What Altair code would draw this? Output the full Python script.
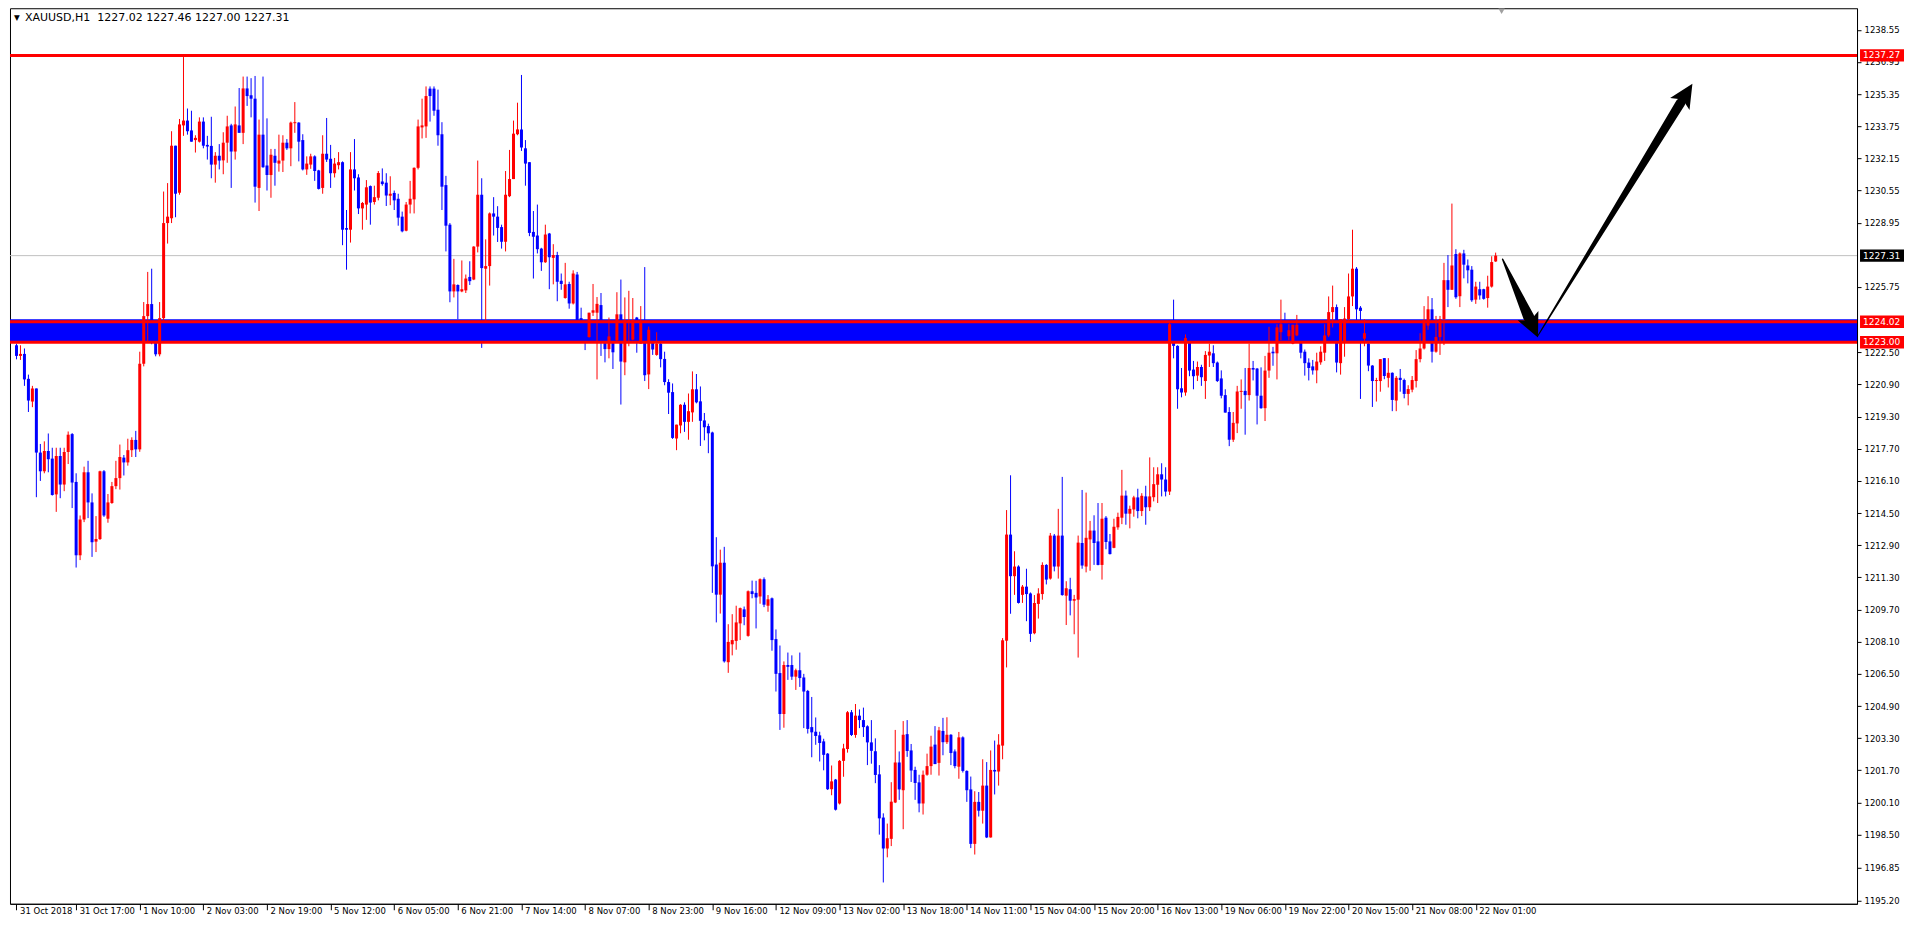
import altair as alt
import pandas as pd

# ---------------- data (XAUUSD H1) ----------------
OPEN = [
1222.85, 1222.32, 1222.42, 1221.18, 1220.05, 1220.70, 1217.51, 1216.58, 1217.59, 1217.21,
1215.43, 1217.34, 1215.92, 1217.54, 1218.43, 1216.05, 1212.40, 1214.18, 1216.53, 1215.03,
1213.08, 1213.21, 1216.58, 1214.22, 1215.00, 1215.84, 1216.24, 1217.26, 1217.02, 1217.63,
1218.14, 1217.67, 1221.93, 1224.30, 1224.90, 1223.20, 1222.40, 1224.20, 1228.93, 1229.17,
1232.78, 1230.44, 1233.79, 1234.03, 1233.54, 1233.06, 1232.98, 1233.98, 1232.82, 1232.77,
1231.84, 1232.28, 1232.05, 1232.93, 1233.79, 1232.49, 1233.79, 1233.42, 1235.63, 1235.29,
1235.12, 1230.68, 1233.33, 1231.79, 1231.32, 1232.28, 1231.89, 1232.04, 1232.93, 1232.65,
1233.90, 1233.93, 1233.06, 1231.60, 1231.84, 1232.25, 1231.55, 1230.68, 1232.38, 1232.13,
1231.41, 1231.81, 1231.96, 1228.68, 1228.60, 1231.60, 1231.20, 1229.66, 1229.85, 1230.77,
1229.98, 1230.19, 1231.00, 1230.94, 1230.29, 1230.43, 1230.14, 1229.25, 1228.55, 1229.85,
1230.11, 1231.68, 1233.69, 1233.74, 1235.62, 1235.62, 1234.57, 1233.35, 1230.82, 1228.85,
1225.53, 1225.85, 1225.53, 1225.58, 1226.25, 1226.12, 1227.76, 1230.34, 1226.66, 1226.79,
1229.41, 1229.25, 1228.73, 1228.00, 1230.27, 1231.12, 1233.35, 1233.59, 1232.65, 1231.96,
1228.49, 1228.31, 1227.66, 1226.98, 1228.41, 1227.20, 1227.34, 1226.06, 1225.20, 1225.90,
1224.93, 1226.37, 1224.20, 1223.30, 1223.26, 1224.47, 1224.47, 1224.85, 1223.90, 1222.66,
1223.29, 1223.10, 1224.39, 1222.00, 1224.04, 1223.13, 1224.23, 1222.93, 1223.67, 1221.40,
1223.10, 1222.37, 1222.93, 1222.17, 1221.02, 1220.52, 1218.21, 1218.86, 1219.89, 1219.04,
1219.51, 1220.66, 1220.06, 1219.11, 1218.83, 1218.51, 1211.94, 1210.44, 1212.03, 1207.08,
1207.97, 1208.14, 1209.01, 1209.71, 1208.39, 1210.61, 1210.53, 1210.35, 1211.21, 1209.89,
1210.26, 1208.23, 1206.54, 1204.50, 1206.94, 1206.94, 1206.36, 1206.68, 1206.32, 1205.65,
1203.85, 1203.62, 1203.44, 1203.14, 1202.53, 1200.76, 1201.24, 1200.05, 1202.17, 1202.76,
1204.59, 1203.46, 1204.42, 1204.20, 1203.89, 1203.09, 1202.65, 1201.50, 1199.35, 1197.81,
1198.29, 1200.10, 1202.09, 1200.71, 1203.50, 1202.69, 1201.72, 1201.10, 1200.05, 1201.48,
1201.91, 1202.98, 1202.07, 1203.66, 1203.10, 1203.47, 1202.64, 1201.88, 1203.34, 1201.67,
1200.75, 1198.04, 1200.13, 1199.69, 1200.94, 1198.36, 1201.72, 1201.64, 1202.93, 1208.15,
1213.43, 1211.36, 1211.84, 1210.43, 1210.84, 1210.50, 1208.52, 1209.98, 1210.47, 1211.92,
1211.24, 1213.38, 1211.84, 1213.38, 1210.39, 1210.71, 1210.14, 1210.19, 1213.01, 1211.84,
1213.19, 1213.63, 1213.09, 1211.92, 1214.27, 1213.09, 1212.77, 1213.79, 1214.27, 1215.37,
1214.47, 1214.68, 1215.28, 1214.60, 1215.33, 1214.79, 1215.29, 1215.91, 1216.43, 1216.17,
1215.57, 1223.90, 1222.82, 1220.71, 1220.50, 1223.21, 1221.64, 1221.34, 1221.77, 1221.07,
1222.34, 1222.45, 1221.99, 1221.20, 1220.37, 1219.53, 1218.15, 1218.96, 1220.53, 1220.58,
1220.37, 1221.72, 1221.69, 1220.34, 1219.72, 1221.59, 1222.53, 1222.45, 1223.50, 1223.90,
1223.30, 1222.93, 1223.34, 1223.10, 1222.53, 1221.99, 1221.80, 1221.60, 1222.00, 1222.48,
1223.34, 1224.50, 1224.75, 1221.96, 1222.98, 1224.15, 1225.28, 1226.66, 1224.72, 1223.18,
1222.94, 1221.84, 1221.07, 1221.07, 1222.21, 1221.23, 1221.48, 1220.10, 1221.23, 1221.12,
1220.43, 1220.64, 1221.07, 1222.16, 1222.69, 1223.83, 1224.64, 1222.53, 1223.26, 1224.15,
1226.09, 1225.61, 1227.39, 1225.29, 1227.42, 1226.82, 1226.61, 1225.12, 1225.64, 1225.64,
1225.20, 1225.77, 1227.02]

HIGH = [
1222.93, 1222.85, 1222.69, 1221.39, 1220.83, 1220.70, 1217.94, 1218.07, 1218.46, 1217.75,
1217.75, 1217.75, 1217.75, 1218.56, 1218.48, 1216.48, 1214.38, 1216.81, 1217.10, 1215.48,
1214.35, 1216.61, 1216.64, 1215.45, 1216.05, 1217.10, 1217.91, 1217.39, 1218.20, 1218.27,
1218.59, 1222.53, 1225.00, 1226.50, 1226.66, 1223.40, 1225.00, 1230.50, 1230.92, 1233.50,
1232.78, 1234.11, 1237.19, 1234.63, 1234.52, 1233.30, 1234.19, 1234.19, 1233.27, 1234.22,
1232.46, 1232.86, 1233.45, 1234.27, 1233.87, 1234.73, 1235.65, 1236.22, 1236.22, 1236.14,
1236.25, 1234.08, 1236.22, 1234.14, 1232.62, 1232.62, 1233.33, 1233.30, 1233.11, 1233.98,
1234.95, 1233.95, 1233.35, 1232.25, 1232.38, 1232.30, 1231.58, 1233.30, 1234.16, 1232.82,
1232.17, 1232.46, 1232.00, 1229.58, 1232.46, 1233.11, 1231.36, 1229.98, 1231.07, 1230.80,
1230.79, 1231.52, 1231.65, 1231.41, 1231.26, 1230.55, 1230.39, 1229.50, 1229.98, 1231.03,
1231.70, 1234.08, 1235.12, 1235.73, 1235.73, 1235.73, 1235.57, 1233.95, 1231.28, 1228.93,
1227.15, 1225.88, 1227.07, 1226.37, 1227.03, 1227.78, 1232.04, 1231.16, 1228.12, 1229.46,
1230.22, 1229.77, 1228.85, 1231.52, 1232.57, 1234.03, 1234.92, 1236.30, 1233.06, 1231.96,
1229.53, 1229.85, 1227.70, 1228.85, 1228.44, 1227.88, 1227.50, 1226.42, 1226.95, 1226.01,
1226.58, 1226.50, 1224.72, 1223.80, 1224.47, 1225.90, 1225.25, 1225.45, 1224.00, 1224.23,
1223.70, 1225.49, 1226.12, 1225.23, 1225.56, 1225.20, 1224.26, 1224.80, 1226.74, 1223.78,
1223.26, 1223.50, 1223.00, 1222.53, 1221.16, 1220.95, 1218.90, 1219.92, 1220.01, 1220.45,
1221.55, 1221.42, 1220.80, 1219.48, 1218.95, 1218.55, 1213.30, 1212.68, 1212.82, 1208.97,
1209.47, 1209.89, 1209.80, 1209.85, 1210.65, 1211.14, 1211.13, 1211.25, 1211.30, 1210.42,
1210.30, 1208.71, 1207.91, 1207.12, 1207.56, 1207.42, 1206.76, 1207.56, 1206.50, 1205.70,
1205.35, 1204.33, 1203.62, 1203.27, 1202.56, 1201.94, 1201.27, 1202.21, 1203.02, 1204.65,
1204.70, 1205.00, 1204.73, 1204.82, 1203.94, 1204.20, 1203.29, 1201.96, 1199.56, 1199.05,
1201.11, 1203.71, 1202.64, 1204.15, 1204.20, 1203.01, 1201.88, 1201.48, 1201.69, 1202.53,
1203.42, 1203.90, 1203.86, 1204.31, 1204.34, 1203.50, 1202.74, 1203.61, 1203.39, 1201.70,
1201.39, 1200.66, 1200.62, 1202.25, 1202.11, 1202.69, 1203.18, 1203.50, 1208.28, 1214.65,
1216.38, 1212.60, 1211.90, 1210.92, 1211.73, 1210.55, 1210.42, 1210.76, 1212.05, 1211.96,
1213.51, 1213.46, 1214.71, 1216.30, 1211.11, 1211.28, 1210.43, 1213.38, 1215.65, 1215.52,
1214.11, 1214.39, 1215.00, 1215.00, 1214.35, 1213.46, 1214.22, 1214.52, 1216.65, 1215.62,
1214.87, 1215.36, 1215.71, 1215.49, 1215.86, 1217.27, 1216.78, 1216.78, 1216.98, 1216.78,
1224.05, 1225.12, 1222.85, 1221.72, 1223.39, 1223.25, 1222.07, 1222.04, 1221.88, 1222.56,
1222.93, 1222.85, 1222.04, 1221.60, 1220.66, 1219.77, 1219.53, 1220.83, 1221.15, 1221.72,
1222.93, 1222.07, 1221.72, 1221.75, 1222.32, 1223.77, 1222.77, 1223.90, 1225.12, 1224.47,
1223.90, 1223.87, 1224.36, 1223.15, 1222.64, 1222.20, 1222.12, 1222.48, 1222.80, 1223.90,
1225.28, 1225.82, 1224.88, 1224.15, 1224.75, 1226.42, 1228.60, 1226.74, 1224.80, 1224.15,
1223.26, 1221.86, 1221.23, 1222.16, 1222.21, 1222.21, 1221.50, 1221.32, 1221.67, 1221.19,
1220.86, 1221.32, 1222.61, 1223.45, 1224.80, 1225.29, 1225.20, 1224.31, 1224.31, 1226.95,
1227.34, 1229.90, 1227.63, 1227.47, 1227.60, 1227.12, 1226.79, 1226.01, 1226.01, 1225.66,
1226.31, 1227.28, 1227.46]

LOW = [
1222.15, 1222.12, 1220.83, 1219.53, 1219.77, 1215.29, 1216.10, 1216.48, 1216.53, 1215.37,
1214.56, 1215.24, 1215.59, 1216.94, 1214.75, 1211.79, 1212.16, 1214.05, 1214.25, 1212.32,
1212.56, 1213.16, 1214.31, 1214.02, 1214.96, 1215.69, 1215.67, 1216.37, 1216.86, 1217.29,
1217.29, 1217.55, 1221.80, 1223.00, 1222.90, 1222.30, 1222.30, 1224.00, 1227.91, 1228.93,
1229.22, 1230.34, 1233.27, 1233.33, 1232.98, 1232.44, 1232.94, 1232.65, 1232.09, 1231.16,
1230.94, 1231.60, 1231.36, 1231.93, 1230.68, 1232.09, 1233.42, 1232.86, 1234.76, 1234.19,
1229.95, 1229.53, 1231.68, 1230.55, 1230.19, 1230.79, 1231.49, 1231.47, 1232.57, 1231.76,
1233.42, 1232.00, 1231.55, 1231.33, 1231.63, 1231.03, 1230.60, 1230.39, 1231.97, 1230.68,
1231.20, 1231.60, 1227.83, 1226.61, 1227.96, 1230.55, 1229.38, 1228.60, 1229.09, 1228.85,
1229.85, 1230.06, 1230.79, 1229.78, 1229.82, 1229.58, 1228.80, 1228.47, 1228.52, 1229.41,
1229.41, 1231.60, 1233.14, 1233.17, 1233.98, 1234.27, 1232.78, 1229.58, 1227.52, 1224.99,
1225.23, 1224.15, 1225.49, 1225.45, 1225.85, 1226.09, 1227.47, 1222.72, 1223.99, 1225.82,
1228.31, 1227.99, 1227.66, 1227.52, 1230.22, 1231.12, 1233.30, 1232.52, 1230.79, 1228.28,
1226.17, 1227.42, 1226.55, 1226.95, 1225.64, 1225.88, 1225.04, 1225.61, 1225.17, 1224.67,
1224.88, 1224.07, 1223.00, 1222.61, 1223.23, 1224.31, 1221.15, 1222.32, 1222.00, 1222.20,
1221.67, 1222.97, 1219.90, 1221.36, 1222.80, 1223.10, 1222.48, 1222.93, 1221.07, 1220.67,
1222.37, 1222.33, 1221.75, 1220.86, 1219.43, 1218.19, 1217.63, 1218.47, 1218.54, 1218.15,
1219.04, 1219.96, 1217.84, 1218.12, 1217.48, 1210.53, 1209.06, 1209.50, 1207.06, 1206.55,
1207.42, 1207.70, 1208.18, 1208.92, 1208.35, 1210.26, 1208.76, 1209.99, 1209.82, 1209.59,
1207.65, 1205.62, 1203.71, 1203.82, 1206.20, 1206.20, 1205.70, 1205.85, 1203.80, 1203.53,
1202.35, 1202.97, 1202.14, 1201.70, 1200.72, 1200.46, 1199.70, 1200.00, 1201.38, 1202.58,
1203.41, 1203.32, 1203.80, 1203.36, 1201.96, 1202.03, 1201.06, 1198.50, 1196.12, 1197.37,
1197.93, 1200.07, 1200.23, 1198.77, 1202.37, 1201.12, 1200.23, 1199.61, 1199.50, 1201.43,
1201.48, 1202.01, 1201.44, 1202.45, 1203.01, 1201.96, 1201.80, 1201.28, 1201.59, 1200.13,
1197.83, 1197.51, 1199.40, 1199.05, 1198.33, 1198.35, 1200.50, 1200.94, 1202.25, 1206.82,
1209.49, 1210.43, 1210.00, 1210.03, 1209.12, 1208.09, 1208.47, 1209.25, 1210.19, 1210.95,
1211.19, 1211.60, 1211.24, 1210.39, 1208.93, 1209.41, 1208.47, 1207.31, 1211.73, 1211.55,
1211.63, 1211.92, 1211.90, 1211.19, 1212.70, 1212.44, 1212.75, 1213.67, 1213.95, 1213.92,
1213.74, 1214.32, 1214.24, 1214.35, 1213.92, 1214.60, 1215.08, 1215.00, 1215.33, 1215.33,
1215.40, 1222.20, 1219.69, 1220.26, 1220.34, 1221.31, 1220.66, 1221.07, 1220.83, 1220.18,
1221.77, 1221.77, 1221.02, 1220.21, 1219.50, 1217.83, 1218.04, 1218.48, 1219.69, 1218.40,
1220.10, 1221.10, 1218.91, 1219.69, 1219.08, 1221.23, 1221.83, 1221.15, 1223.10, 1223.00,
1223.10, 1222.90, 1223.30, 1222.20, 1221.34, 1221.10, 1221.39, 1220.96, 1221.88, 1222.07,
1223.26, 1223.74, 1221.50, 1221.39, 1222.28, 1224.07, 1224.80, 1224.07, 1220.18, 1222.80,
1221.56, 1219.78, 1220.05, 1220.54, 1221.16, 1220.75, 1219.57, 1219.57, 1220.54, 1220.21,
1219.86, 1220.51, 1220.75, 1222.00, 1222.64, 1223.62, 1221.99, 1222.48, 1222.37, 1222.86,
1224.75, 1225.61, 1225.16, 1224.75, 1226.18, 1225.93, 1225.01, 1224.91, 1225.12, 1225.12,
1224.72, 1225.72, 1227.00]

CLOSE = [
1222.32, 1222.42, 1221.15, 1220.10, 1220.70, 1217.51, 1216.58, 1217.59, 1217.18, 1215.40,
1217.34, 1215.92, 1217.54, 1218.40, 1216.02, 1212.40, 1214.18, 1216.53, 1215.03, 1213.05,
1213.21, 1216.58, 1214.38, 1215.03, 1215.84, 1216.24, 1217.29, 1217.02, 1217.63, 1218.14,
1217.67, 1221.93, 1224.30, 1224.90, 1223.20, 1222.40, 1224.20, 1228.93, 1229.25, 1232.78,
1230.39, 1233.84, 1234.03, 1233.50, 1232.98, 1233.17, 1233.98, 1232.78, 1232.74, 1231.84,
1232.28, 1232.04, 1232.93, 1233.74, 1232.49, 1233.84, 1233.42, 1235.63, 1235.25, 1235.12,
1230.74, 1233.33, 1231.71, 1231.32, 1232.33, 1231.93, 1232.04, 1232.93, 1232.65, 1233.93,
1233.95, 1232.98, 1231.60, 1231.89, 1232.25, 1231.52, 1230.63, 1232.38, 1232.09, 1231.41,
1231.89, 1231.96, 1228.60, 1228.60, 1231.60, 1231.16, 1229.66, 1229.93, 1230.71, 1229.95,
1230.22, 1231.42, 1230.87, 1230.30, 1230.39, 1230.06, 1229.20, 1228.52, 1229.85, 1230.14,
1231.68, 1233.74, 1233.79, 1235.25, 1235.25, 1234.52, 1233.30, 1230.74, 1228.80, 1225.53,
1225.88, 1225.53, 1225.64, 1226.17, 1226.04, 1227.76, 1230.34, 1226.69, 1226.79, 1229.41,
1229.25, 1228.69, 1228.00, 1230.34, 1231.12, 1233.38, 1233.59, 1232.69, 1231.89, 1228.44,
1228.25, 1227.63, 1226.98, 1228.36, 1227.23, 1227.34, 1226.01, 1225.90, 1225.88, 1224.93,
1226.42, 1224.07, 1223.30, 1223.10, 1224.47, 1224.59, 1224.91, 1224.10, 1222.66, 1223.29,
1222.50, 1224.39, 1222.04, 1224.10, 1224.10, 1224.10, 1223.30, 1224.04, 1221.36, 1223.62,
1222.64, 1222.93, 1222.16, 1221.02, 1220.49, 1218.24, 1218.90, 1219.89, 1219.04, 1219.57,
1220.66, 1220.01, 1219.09, 1218.77, 1218.47, 1211.85, 1210.44, 1212.03, 1207.12, 1208.09,
1208.18, 1209.06, 1209.77, 1209.33, 1210.61, 1210.47, 1210.30, 1211.21, 1209.94, 1210.21,
1208.18, 1206.50, 1204.50, 1206.94, 1206.85, 1206.36, 1206.68, 1206.29, 1205.62, 1203.76,
1203.59, 1203.41, 1203.06, 1202.47, 1200.76, 1201.15, 1199.74, 1202.17, 1202.79, 1204.59,
1203.46, 1204.42, 1204.20, 1203.85, 1203.09, 1202.67, 1201.47, 1199.31, 1197.81, 1198.32,
1200.14, 1202.09, 1200.75, 1203.47, 1202.66, 1201.69, 1201.07, 1200.05, 1201.48, 1201.91,
1202.88, 1202.01, 1203.69, 1203.10, 1203.47, 1202.56, 1201.91, 1203.34, 1201.67, 1200.71,
1198.04, 1200.13, 1199.69, 1200.94, 1198.36, 1201.72, 1201.64, 1202.98, 1208.17, 1213.43,
1211.36, 1211.84, 1210.03, 1210.84, 1210.47, 1208.49, 1210.03, 1210.50, 1211.92, 1211.19,
1213.38, 1211.84, 1213.38, 1210.42, 1210.76, 1210.14, 1210.22, 1213.03, 1211.89, 1213.27,
1213.63, 1213.01, 1211.92, 1214.22, 1213.06, 1212.46, 1213.82, 1214.31, 1215.37, 1214.47,
1214.71, 1215.28, 1214.60, 1215.36, 1214.79, 1215.33, 1215.94, 1216.43, 1216.17, 1215.57,
1223.90, 1222.82, 1220.66, 1220.50, 1223.21, 1221.59, 1221.31, 1221.77, 1221.26, 1222.37,
1222.53, 1221.96, 1221.07, 1220.34, 1219.50, 1218.15, 1218.99, 1220.55, 1220.58, 1220.37,
1221.72, 1221.64, 1220.34, 1219.72, 1221.59, 1222.48, 1222.45, 1223.74, 1223.90, 1223.30,
1223.60, 1223.87, 1223.87, 1222.48, 1221.96, 1221.72, 1221.60, 1222.04, 1222.53, 1223.34,
1224.50, 1224.75, 1221.99, 1224.15, 1224.18, 1225.28, 1226.66, 1224.64, 1224.56, 1223.45,
1221.84, 1221.07, 1221.12, 1222.16, 1221.32, 1221.48, 1220.13, 1221.23, 1221.12, 1220.43,
1220.67, 1221.12, 1222.16, 1222.69, 1224.10, 1224.64, 1222.53, 1223.26, 1224.15, 1226.09,
1225.61, 1226.82, 1225.24, 1227.42, 1226.86, 1226.58, 1225.09, 1225.77, 1225.33, 1225.16,
1225.77, 1226.99, 1227.31]

TIME_LABELS = ["31 Oct 2018", "31 Oct 17:00", "1 Nov 10:00", "2 Nov 03:00", "2 Nov 19:00",
               "5 Nov 12:00", "6 Nov 05:00", "6 Nov 21:00", "7 Nov 14:00", "8 Nov 07:00",
               "8 Nov 23:00", "9 Nov 16:00", "12 Nov 09:00", "13 Nov 02:00", "13 Nov 18:00",
               "14 Nov 11:00", "15 Nov 04:00", "15 Nov 20:00", "16 Nov 13:00", "19 Nov 06:00",
               "19 Nov 22:00", "20 Nov 15:00", "21 Nov 08:00", "22 Nov 01:00"]
TIME_LABEL_BARS = [0, 15, 31, 47, 63, 79, 95, 111, 127, 143, 159, 175, 191, 207, 223,
                   239, 255, 271, 287, 303, 319, 335, 351, 367]

PRICE_TICKS = [1238.55, 1236.95, 1235.35, 1233.75, 1232.15, 1230.55, 1228.95, 1225.75,
               1222.50, 1220.90, 1219.30, 1217.70, 1216.10, 1214.50, 1212.90, 1211.30,
               1209.70, 1208.10, 1206.50, 1204.90, 1203.30, 1201.70, 1200.10, 1198.50,
               1196.85, 1195.20]

RESISTANCE = 1237.27
ZONE_TOP = 1224.02
ZONE_BOTTOM = 1223.00
ZONE_RECT_TOP = 1224.15
LAST_PRICE = 1227.31
TITLE = "XAUUSD,H1\u00a0 1227.02 1227.46 1227.00 1227.31"

TAG_PRICES = [1237.27, 1227.31, 1224.02, 1223.00]
TAG_TEXTS = ["1237.27", "1227.31", "1224.02", "1223.00"]
TAG_COLORS = ["#FF0000", "#000000", "#FF0000", "#FF0000"]

# hand-drawn arrows (bar index, price, stroke width)
ARROW_ID = [1, 1, 2, 2]
ARROW_ORD = [0, 1, 0, 1]
ARROW_BAR = [373.75, 380.28, 382.5, 418.48]
ARROW_PRICE = [1227.13, 1224.27, 1223.29, 1234.90]
ARROW_WIDTH = [1.5, 11.0, 1.0, 9.5]
HEAD_BAR = [381.39, 419.9]
HEAD_PRICE = [1223.78, 1235.36]
HEAD_ANGLE = [155.6, 31.7]
SHIFT_MARK_BAR = [373.5]

# ---------------- chart ----------------
W, H = 1848, 896
X_DOMAIN = [-0.375, 461.625]
Y_DOMAIN = [1195.06, 1239.62]
FONT = "DejaVu Sans"

df = pd.DataFrame({"bar": list(range(len(CLOSE))), "open": OPEN, "high": HIGH,
                   "low": LOW, "close": CLOSE})
df["high"] = df[["high", "open", "close"]].max(axis=1)
df["low"] = df[["low", "open", "close"]].min(axis=1)
df["dir"] = ["up" if c >= o else "down" for o, c in zip(df["open"], df["close"])]
df["btop"] = df[["open", "close"]].max(axis=1)
df["bbot"] = df[["open", "close"]].min(axis=1)
thin = (df["btop"] - df["bbot"]) < 0.05
df.loc[thin, "bbot"] = df.loc[thin, "btop"] - 0.05

xs = alt.Scale(domain=X_DOMAIN, nice=False, zero=False)
ys = alt.Scale(domain=Y_DOMAIN, nice=False, zero=False)
color = alt.Color("dir:N", scale=alt.Scale(domain=["up", "down"], range=["#FF0000", "#0000FF"]),
                  legend=None)

label_expr = ("[" + ",".join("'%s'" % t for t in TIME_LABELS) + "][indexof(["
              + ",".join(str(v) for v in TIME_LABEL_BARS) + "], datum.value)]")

X_AXIS = alt.Axis(values=TIME_LABEL_BARS, labelExpr=label_expr, title=None, grid=False,
                  orient="bottom", labelAlign="left", labelBaseline="top", labelOffset=3,
                  labelPadding=-3, tickSize=6, labelOverlap=False, labelFlush=False,
                  labelBound=False)
Y_AXIS = alt.Axis(values=PRICE_TICKS, format=".2f", orient="right", title=None, grid=False,
                  tickSize=4, labelPadding=3, labelOverlap=False, labelFlush=False,
                  labelBound=False)


def X(field):
    return alt.X(field, scale=xs, axis=X_AXIS)


def Y(field):
    return alt.Y(field, scale=ys, axis=Y_AXIS)


zone = alt.Chart(pd.DataFrame({"top": [ZONE_RECT_TOP], "bot": [ZONE_BOTTOM]})).mark_rect(
    color="#0000FF").encode(
    x=alt.value(0), x2=alt.value(W), y=Y("top:Q"), y2="bot:Q")

gray = alt.Chart(pd.DataFrame({"p": [LAST_PRICE]})).mark_rule(
    color="#C0C0C0", strokeWidth=1).encode(
    x=alt.value(0), x2=alt.value(W), y=Y("p:Q"))

wicks = alt.Chart(df).mark_rule(strokeWidth=1).encode(
    x=X("bar:Q"), y=Y("low:Q"), y2="high:Q", color=color)

bodies = alt.Chart(df).mark_bar(size=3).encode(
    x=X("bar:Q"), y=Y("btop:Q"), y2="bbot:Q", color=color)

red_lines = alt.Chart(pd.DataFrame({"p": [RESISTANCE, ZONE_TOP, ZONE_BOTTOM]})).mark_rule(
    color="#FF0000", strokeWidth=3).encode(
    x=alt.value(0), x2=alt.value(W), y=Y("p:Q"))

arrows_df = pd.DataFrame({"id": ARROW_ID, "ord": ARROW_ORD, "bar": ARROW_BAR,
                          "p": ARROW_PRICE, "w": ARROW_WIDTH})
shafts = alt.Chart(arrows_df).mark_trail(color="black").encode(
    x=X("bar:Q"), y=Y("p:Q"),
    size=alt.Size("w:Q", scale=None, legend=None), detail="id:N", order="ord:Q")

heads = alt.Chart(pd.DataFrame({"bar": HEAD_BAR, "p": HEAD_PRICE, "a": HEAD_ANGLE})).mark_point(
    shape="M0,-1L0.95,1L0,0.55L-0.95,1Z", size=576, filled=True, opacity=1,
    color="black", strokeWidth=0).encode(
    x=X("bar:Q"), y=Y("p:Q"), angle=alt.Angle("a:Q", scale=None))

tags_df = pd.DataFrame({"p": TAG_PRICES, "t": TAG_TEXTS, "c": TAG_COLORS})
tag_boxes = alt.Chart(tags_df).mark_point(
    shape="M-1,-0.28L1,-0.28L1,0.28L-1,0.28Z", size=44 * 44, filled=True, opacity=1,
    strokeWidth=0).encode(
    x=alt.value(W + 25), y=Y("p:Q"),
    color=alt.Color("c:N", scale=None, legend=None))
tag_texts = alt.Chart(tags_df).mark_text(
    align="left", baseline="middle", color="white", font=FONT, fontSize=9).encode(
    x=alt.value(W + 6), y=Y("p:Q"), text="t:N")

title_df = pd.DataFrame({"t": [TITLE]})
title_tri = alt.Chart(title_df).mark_text(
    text="\u25BC", align="left", baseline="middle", fontSize=7.5, color="black",
    font=FONT).encode(x=alt.value(4), y=alt.value(10))
title_txt = alt.Chart(title_df).mark_text(
    align="left", baseline="middle", fontSize=11, color="black", font=FONT).encode(
    x=alt.value(15), y=alt.value(10), text="t:N")

shift_mark = alt.Chart(pd.DataFrame({"bar": SHIFT_MARK_BAR})).mark_point(
    shape="triangle-down", size=40, filled=True, opacity=1, color="#A0A0A0").encode(
    x=X("bar:Q"), y=alt.value(3))

chart = alt.layer(
    zone, gray, wicks, bodies, red_lines, shafts, heads,
    tag_boxes, tag_texts, title_tri, title_txt, shift_mark
).properties(
    width=W, height=H,
    padding={"left": 0, "top": 0, "right": 0, "bottom": 0},
    background="white"
).configure_view(
    stroke="black", strokeWidth=1
).configure_axis(
    labelFont=FONT, labelFontSize=8.5, labelColor="black",
    domainColor="black", tickColor="black", domainWidth=1, tickWidth=1
)

chart.save("out.html", embed_options={"renderer": "svg", "actions": False})
